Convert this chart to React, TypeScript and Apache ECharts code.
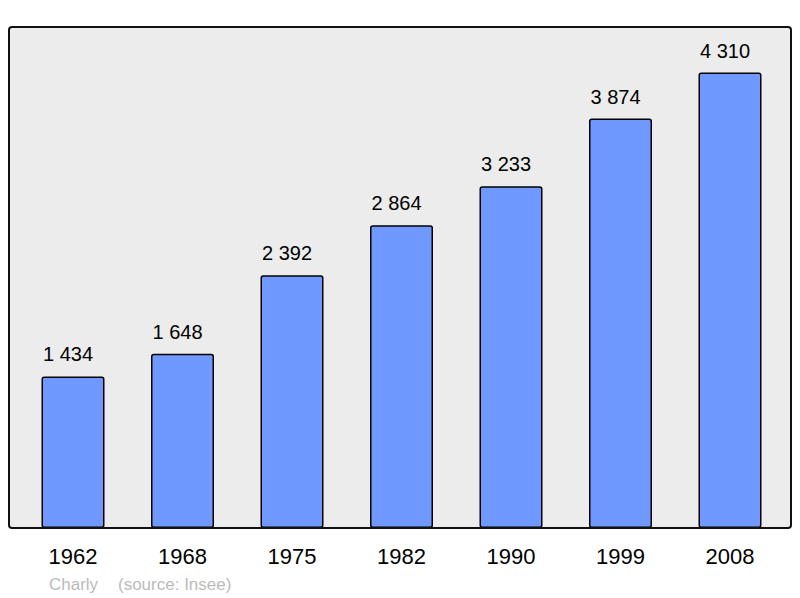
import React, { useEffect, useRef } from "react";
import * as echarts from "echarts";

const years = ["1962", "1968", "1975", "1982", "1990", "1999", "2008"];
const population = [1434, 1648, 2392, 2864, 3233, 3874, 4310];
const footerAuthor = "Charly";
const footerSource = "(source: Insee)";

const fmt = (v: number) => String(v).replace(/\B(?=(\d{3})+(?!\d))/g, " ");

export default function App() {
  const ref = useRef<HTMLDivElement>(null);
  useEffect(() => {
    if (!ref.current) return;
    const chart = echarts.init(ref.current, null, { renderer: "svg" });
    const maxVal = Math.max(...population) * 1.1;
    chart.setOption({
      animation: false,
      backgroundColor: "#ffffff",
      textStyle: { fontFamily: "Liberation Sans" },
      grid: { left: 18.25, right: 15.25, top: 27, bottom: 70 },
      xAxis: {
        type: "category",
        data: years,
        axisLine: { show: false },
        axisTick: { show: false },
        axisLabel: {
          fontSize: 22,
          color: "#000",
          margin: 17,
          fontFamily: "Liberation Sans",
        },
      },
      yAxis: {
        type: "value",
        min: 0,
        max: maxVal,
        show: false,
        splitLine: { show: false },
      },
      graphic: [
        {
          type: "rect",
          z: -10,
          shape: { x: 9, y: 27, width: 782, height: 501, r: 3 },
          style: { fill: "#ececec", stroke: "none" },
        },
        {
          type: "rect",
          z: 100,
          shape: { x: 9, y: 27, width: 782, height: 501, r: 3 },
          style: { fill: "none", stroke: "#111", lineWidth: 2 },
        },
        {
          type: "text",
          x: 49,
          y: 584,
          style: {
            text: footerAuthor,
            fontSize: 17,
            fill: "#bbbbbb",
            fontFamily: "Liberation Sans",
            verticalAlign: "middle",
          },
        },
        {
          type: "text",
          x: 118,
          y: 584,
          style: {
            text: footerSource,
            fontSize: 17,
            fill: "#bbbbbb",
            fontFamily: "Liberation Sans",
            verticalAlign: "middle",
          },
        },
      ],
      series: [
        {
          type: "bar",
          data: population,
          barWidth: 63,
          z: 5,
          itemStyle: {
            color: "#7099ff",
            borderColor: "#000",
            borderWidth: 1.5,
            borderRadius: 2,
          },
          label: {
            show: true,
            position: "top",
            distance: 12,
            offset: [-5, 0],
            fontSize: 20,
            color: "#000",
            fontFamily: "Liberation Sans",
            formatter: (p: any) => fmt(p.value),
          },
        },
      ],
    });
    return () => chart.dispose();
  }, []);
  return (
    <div
      ref={ref}
      style={{ position: "fixed", left: 0, top: 0, width: 800, height: 598 }}
    />
  );
}
